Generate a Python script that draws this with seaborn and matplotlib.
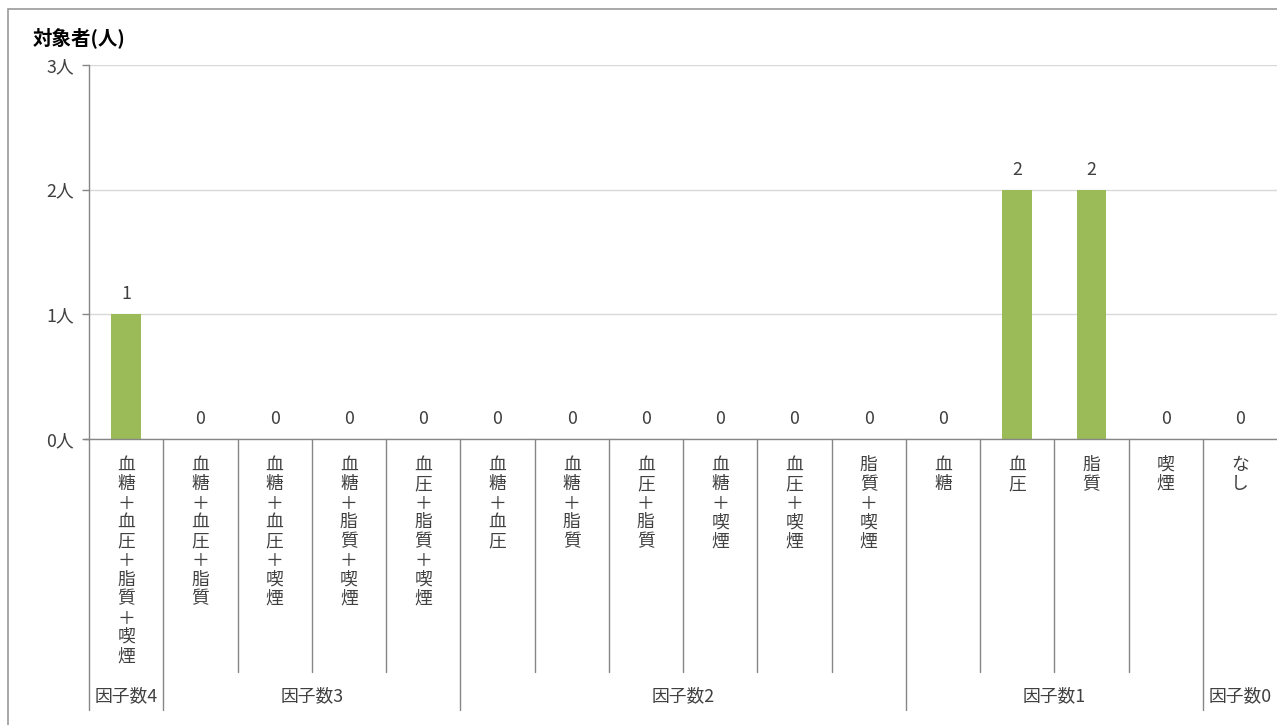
import matplotlib
matplotlib.use("Agg")
import matplotlib.pyplot as plt
import matplotlib.transforms as mtransforms
from matplotlib.patches import Rectangle
import seaborn as sns
import pandas as pd

categories = ["血糖＋血圧＋脂質＋喫煙", "血糖＋血圧＋脂質", "血糖＋血圧＋喫煙", "血糖＋脂質＋喫煙",
              "血圧＋脂質＋喫煙", "血糖＋血圧", "血糖＋脂質", "血圧＋脂質", "血糖＋喫煙",
              "血圧＋喫煙", "脂質＋喫煙", "血糖", "血圧", "脂質", "喫煙", "なし"]
values = [1, 0, 0, 0, 0, 0, 0, 0, 0, 0, 0, 0, 2, 2, 0, 0]
group_names = ["因子数4", "因子数3", "因子数2", "因子数1", "因子数0"]
group_sizes = [1, 4, 6, 4, 1]
y_ticks = [0, 1, 2, 3]
y_tick_labels = ["0人", "1人", "2人", "3人"]
y_title = "対象者(人)"

sns.set_theme(style="white")
plt.rcParams['font.family'] = ['Noto Sans CJK JP', 'DejaVu Sans']

FS = 12.8
W, H = 1277, 725
fig = plt.figure(figsize=(W / 100, H / 100), dpi=100)
ax = fig.add_axes([89 / W, 1 - 439 / H, (1277 - 89) / W, (439 - 65) / H])

df = pd.DataFrame({"cat": categories, "val": values})
sns.barplot(data=df, x="cat", y="val", order=categories, color="#9BBB59",
            saturation=1, width=0.4, ax=ax, edgecolor="none")

ax.set_xlim(-0.5, len(categories) - 0.5)
ax.set_ylim(0, 3)
ax.set_yticks(y_ticks)
ax.set_yticklabels(y_tick_labels, fontsize=FS, color="#404040")
ax.tick_params(axis="y", length=5, width=1, color="#868686", pad=6, left=True)
ax.set_xticks([])
ax.set_xlabel("")
ax.set_ylabel("")
ax.grid(axis="y", color="#D9D9D9", linewidth=1)
ax.set_axisbelow(True)
for s in ["top", "right"]:
    ax.spines[s].set_visible(False)
ax.spines["left"].set_color("#868686")
ax.spines["bottom"].set_color("#868686")
ax.spines["left"].set_linewidth(1)
ax.spines["bottom"].set_linewidth(1)

# value labels
for i, v in enumerate(values):
    ax.annotate(str(v), (i, v), xytext=(0, 8), textcoords="offset points",
                ha="center", va="bottom", fontsize=FS, color="#404040")

trans = mtransforms.blended_transform_factory(ax.transData, ax.transAxes)
# category labels (vertical stacked)
for i, c in enumerate(categories):
    ax.text(i, -0.045, "\n".join(list(c)), transform=trans, ha="center", va="top",
            fontsize=FS, color="#404040", linespacing=1.08, clip_on=False)

# separators
y_inner = -(672 - 439) / 374
y_outer = -(710 - 439) / 374
bounds = [0]
for s in group_sizes:
    bounds.append(bounds[-1] + s)
group_bounds = set(bounds)
for b in range(0, len(categories)):
    yb = y_outer if b in group_bounds else y_inner
    ax.plot([b - 0.5, b - 0.5], [0, yb], transform=trans, color="#868686",
            linewidth=1, clip_on=False)
ax.plot([-0.5 - 5 / 74.25, -0.5], [0, 0], transform=trans, color="#868686", linewidth=1, clip_on=False)

# group labels
for g, (a, b) in zip(group_names, zip(bounds[:-1], bounds[1:])):
    ax.text((a + b - 1) / 2, -(696 - 439) / 374, g, transform=trans, ha="center", va="center",
            fontsize=FS, color="#404040", clip_on=False)

fig.text(33 / W, 1 - 38 / H, y_title, ha="left", va="center", fontsize=14,
         fontweight="bold", color="black")

fig.patches.append(Rectangle((8 / W, -0.01), 1.1, 1 - 9 / H + 0.01, transform=fig.transFigure,
                             fill=False, edgecolor="#9A9A9A", linewidth=1.2))

fig.savefig("out.png", dpi=100)
